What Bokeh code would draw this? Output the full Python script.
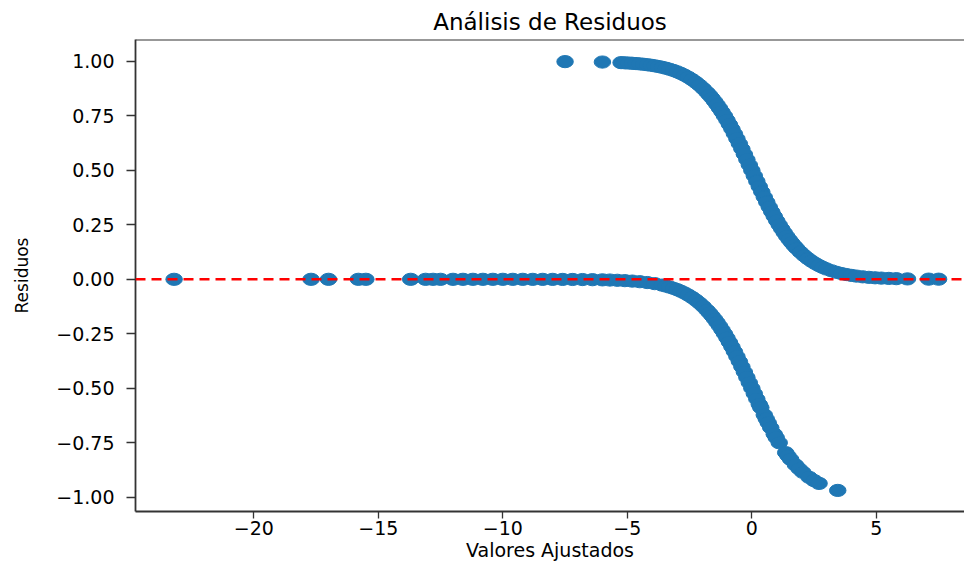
from bokeh.plotting import figure
from bokeh.models import Range1d, FixedTicker, Span, ColumnDataSource
from bokeh.embed import file_html
from bokeh.resources import INLINE

# Residuals of the positive class (y = 1) against fitted values
pos_fitted = [-7.5, -6.0, -5.25, -5.1, -4.95, -4.8, -4.65, -4.5, -4.35, -4.2,
              -4.05, -3.9, -3.75, -3.6, -3.45, -3.3, -3.15, -3.0, -2.85, -2.7,
              -2.55, -2.4, -2.25, -2.1, -1.95, -1.8, -1.7, -1.6, -1.5, -1.4,
              -1.3, -1.2, -1.1, -1.0, -0.9, -0.8, -0.7, -0.6, -0.5, -0.4,
              -0.3, -0.2, -0.1, 0.0, 0.1, 0.2, 0.3, 0.4, 0.5, 0.6,
              0.7, 0.8, 0.9, 1.0, 1.1, 1.2, 1.3, 1.4, 1.5, 1.6,
              1.7, 1.8, 1.95, 2.1, 2.25, 2.4, 2.55, 2.7, 2.85, 3.0,
              3.2, 3.4, 3.6, 3.8, 4.0, 4.2, 4.45, 4.7, 4.95, 5.2,
              5.5, 5.8, 6.25, 7.1, 7.5]
pos_resid = [0.9994, 0.9975, 0.9948, 0.9939, 0.9930, 0.9918, 0.9905, 0.9890, 0.9873, 0.9852,
             0.9829, 0.9802, 0.9770, 0.9734, 0.9692, 0.9644, 0.9589, 0.9526, 0.9453, 0.9370,
             0.9276, 0.9168, 0.9047, 0.8909, 0.8754, 0.8581, 0.8455, 0.8320, 0.8176, 0.8022,
             0.7858, 0.7685, 0.7503, 0.7311, 0.7109, 0.6900, 0.6682, 0.6457, 0.6225, 0.5987,
             0.5744, 0.5498, 0.5250, 0.5000, 0.4750, 0.4502, 0.4256, 0.4013, 0.3775, 0.3543,
             0.3318, 0.3100, 0.2891, 0.2689, 0.2497, 0.2315, 0.2142, 0.1978, 0.1824, 0.1680,
             0.1545, 0.1419, 0.1246, 0.1091, 0.0953, 0.0832, 0.0724, 0.0630, 0.0547, 0.0474,
             0.0392, 0.0323, 0.0266, 0.0219, 0.0180, 0.0148, 0.0115, 0.0090, 0.0070, 0.0055,
             0.0041, 0.0030, 0.0019, 0.0008, 0.0006]

# Residuals of the negative class (y = 0) against fitted values
neg_fitted = [-23.2, -17.7, -17.0, -15.8, -15.5, -13.7, -13.1, -12.8, -12.5, -12.0,
              -11.6, -11.2, -10.8, -10.4, -10.0, -9.6, -9.2, -8.8, -8.4, -8.0,
              -7.6, -7.2, -6.8, -6.4, -6.0, -5.7, -5.4, -5.1, -4.8, -4.5,
              -4.2, -3.9, -3.6, -3.45, -3.3, -3.15, -3.0, -2.85, -2.7, -2.55,
              -2.4, -2.25, -2.1, -1.95, -1.8, -1.7, -1.6, -1.5, -1.4, -1.3,
              -1.2, -1.1, -1.0, -0.9, -0.8, -0.7, -0.6, -0.5, -0.4, -0.3,
              -0.2, -0.1, 0.0, 0.1, 0.2, 0.3, 0.36, 0.5, 0.58, 0.66,
              0.76, 0.9, 0.98, 1.1, 1.36, 1.45, 1.56, 1.75, 1.9, 2.05,
              2.3, 2.5, 2.7, 3.45]
neg_resid = [-0.0000, -0.0000, -0.0000, -0.0000, -0.0000, -0.0000, -0.0000, -0.0000, -0.0000, -0.0000,
             -0.0000, -0.0000, -0.0000, -0.0000, -0.0000, -0.0001, -0.0001, -0.0002, -0.0002, -0.0003,
             -0.0005, -0.0007, -0.0011, -0.0017, -0.0025, -0.0033, -0.0045, -0.0061, -0.0082, -0.0110,
             -0.0148, -0.0198, -0.0266, -0.0308, -0.0356, -0.0411, -0.0474, -0.0547, -0.0630, -0.0724,
             -0.0832, -0.0953, -0.1091, -0.1246, -0.1419, -0.1545, -0.1680, -0.1824, -0.1978, -0.2142,
             -0.2315, -0.2497, -0.2689, -0.2891, -0.3100, -0.3318, -0.3543, -0.3775, -0.4013, -0.4256,
             -0.4502, -0.4750, -0.5000, -0.5250, -0.5498, -0.5744, -0.5890, -0.6225, -0.6411, -0.6593,
             -0.6814, -0.7109, -0.7271, -0.7503, -0.7958, -0.8100, -0.8264, -0.8520, -0.8699, -0.8860,
             -0.9089, -0.9241, -0.9370, -0.9692]

x_ticks = [-20, -15, -10, -5, 0, 5]
x_tick_labels = ["\u221220", "\u221215", "\u221210", "\u22125", "0", "5"]
y_ticks = [-1.0, -0.75, -0.5, -0.25, 0.0, 0.25, 0.5, 0.75, 1.0]
y_tick_labels = ["\u22121.00", "\u22120.75", "\u22120.50", "\u22120.25", "0.00",
                 "0.25", "0.50", "0.75", "1.00"]

FONT = "DejaVu Sans"
BLUE = "#1f77b4"
SPINE = "#333333"
Y_TOP = 1.101

fitted = pos_fitted + neg_fitted
resid = pos_resid + neg_resid
src = ColumnDataSource(data=dict(fitted=fitted, resid=resid))

p = figure(width=964, height=565, output_backend="svg", toolbar_location=None,
           x_range=Range1d(-24.75, 8.54), y_range=Range1d(-1.066, Y_TOP),
           min_border_left=135, min_border_right=0, min_border_top=39,
           min_border_bottom=54, title="Análisis de Residuos")

p.background_fill_color = "white"
p.border_fill_color = "white"
p.outline_line_color = None
p.xgrid.visible = False
p.ygrid.visible = False

p.title.align = "center"
p.title.text_font = FONT
p.title.text_font_style = "normal"
p.title.text_font_size = "23px"
p.title.text_color = "black"
p.title.offset = 5

p.ellipse(x="fitted", y="resid", width=16.5, height=12.2,
          width_units="screen", height_units="screen", source=src,
          fill_color=BLUE, line_color=BLUE, line_width=1)

zero_line = Span(location=0, dimension="width", line_color="red",
                 line_dash="10 6", line_width=2.5)
p.add_layout(zero_line)

top_spine = Span(location=Y_TOP, dimension="width", line_color=SPINE, line_width=1.8)
p.add_layout(top_spine)

for ax in (p.xaxis[0], p.yaxis[0]):
    ax.axis_line_color = SPINE
    ax.axis_line_width = 1.8
    ax.major_tick_line_color = SPINE
    ax.major_tick_line_width = 1.3
    ax.major_tick_in = 0
    ax.minor_tick_line_color = None
    ax.major_label_text_font = FONT
    ax.major_label_text_font_size = "19px"
    ax.major_label_text_color = "black"
    ax.axis_label_text_font = FONT
    ax.axis_label_text_font_style = "normal"
    ax.axis_label_text_color = "black"

p.xaxis.ticker = FixedTicker(ticks=x_ticks)
p.xaxis.major_label_overrides = dict(zip(x_ticks, x_tick_labels))
p.xaxis.major_tick_out = 7
p.xaxis.major_label_standoff = 2
p.xaxis.axis_label = "Valores Ajustados"
p.xaxis.axis_label_text_font_size = "19px"
p.xaxis.axis_label_standoff = 1

p.yaxis.ticker = FixedTicker(ticks=y_ticks)
p.yaxis.major_label_overrides = dict(zip(y_ticks, y_tick_labels))
p.yaxis.major_tick_out = 9
p.yaxis.major_label_standoff = 12
p.yaxis.axis_label = "Residuos"
p.yaxis.axis_label_text_font_size = "17px"
p.yaxis.axis_label_standoff = 21

open("out.html", "w").write(file_html(p, INLINE))
